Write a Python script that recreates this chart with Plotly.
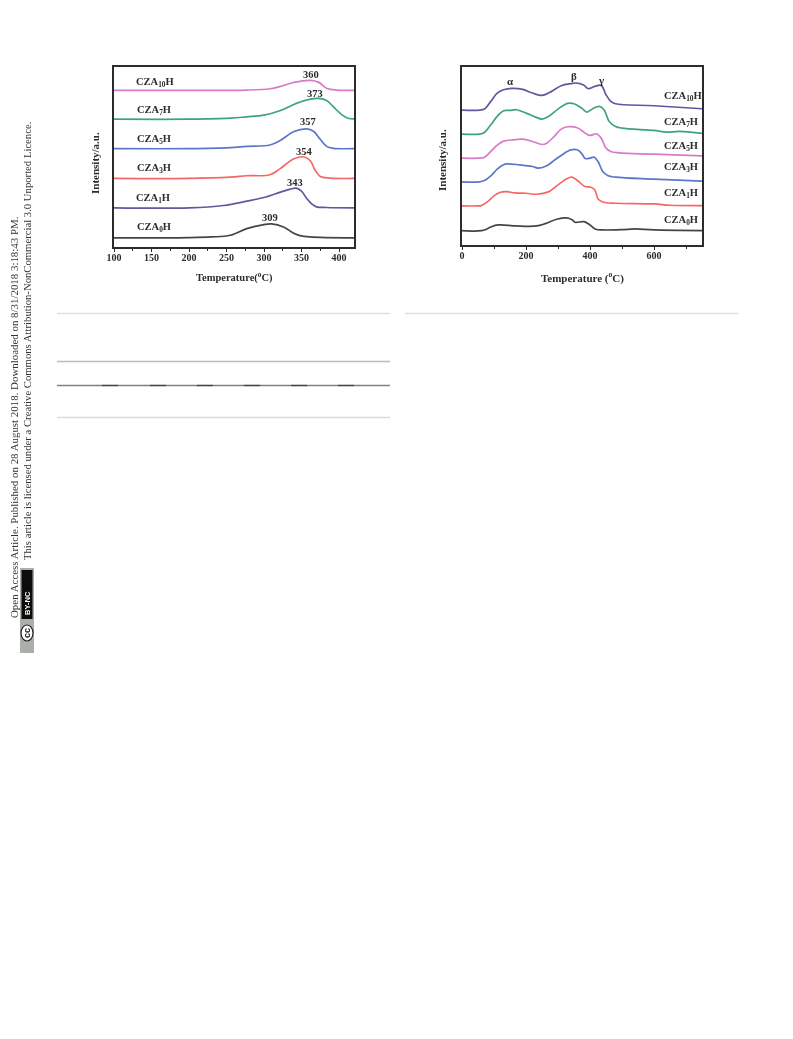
import plotly.graph_objects as go

W, H = 793, 1039
NAMES = ["CZA0H", "CZA1H", "CZA3H", "CZA5H", "CZA7H", "CZA10H"]
COLORS = ["#3c3c3c", "#56509c", "#f4605c", "#5470c4", "#33a070", "#d873c4"]
R_COLORS = ["#3c3c3c", "#f4605c", "#5470c4", "#d873c4", "#33a070", "#56509c"]

# Left panel, intensity in arbitrary units
L_T = [
    [100,200,230,255,277,300,310,326,339,348,361,420],
    [100,200,246,277,300,322,335,343,350,357,364,370,383,420],
    [100,200,255,277,308,322,340,354,362,368,375,388,420],
    [100,200,255,277,308,322,340,357,366,375,384,392,420],
    [100,200,255,277,300,322,344,362,373,384,392,404,412,420],
    [100,200,277,308,322,340,362,373,384,397,420],
]
L_I = [
    [27,28,30,35,55,67,69,60,42,34,30,27],
    [117,117,124,137,148,164,173,176,167,145,128,120,118,117],
    [205,205,209,213,216,235,264,269,257,230,211,206,205],
    [294,294,297,301,305,319,345,353,346,322,300,295,294],
    [382,382,385,389,394,408,430,442,444,437,420,395,385,383],
    [468,468,469,473,480,492,498,492,474,469,468],
]
L_PEAKS = ["309", "343", "354", "357", "373", "360"]

# Right panel
R_T = [
    [0,50,70,90,113,170,233,260,296,327,345,353,381,400,418,440,500,540,600,750],
    [0,50,60,80,100,120,139,165,200,233,270,300,325,343,365,384,403,415,426,442,480,600,650,750],
    [0,55,70,90,110,130,140,180,220,240,265,290,320,340,360,375,385,400,412,425,440,455,480,600,750],
    [0,50,70,90,110,130,160,190,220,250,265,290,310,330,360,385,400,420,435,450,465,490,600,750],
    [0,55,70,90,110,130,150,170,200,230,250,270,300,330,350,375,390,410,430,445,460,480,500,600,640,680,750],
    [0,55,70,90,110,130,155,190,220,250,280,310,340,360,380,395,415,435,450,465,480,600,750],
]
R_I = [
    [43,42,45,54,60,57,57,64,77,81,75,68,70,60,47,45,46,48,45,43],
    [117,117,118,130,147,158,160,156,155,152,159,180,197,203,190,175,173,165,137,128,125,123,119,118],
    [189,189,193,207,227,240,243,240,235,230,237,255,275,285,285,273,259,260,263,250,220,208,203,197,191],
    [260,260,263,280,299,311,315,317,310,301,305,327,347,354,351,335,328,333,320,290,280,276,272,267],
    [332,332,337,360,385,402,403,405,395,383,377,385,407,424,423,409,398,409,415,403,370,355,350,343,338,340,334],
    [404,404,407,430,455,465,469,466,455,448,460,477,483,485,479,468,475,478,450,430,423,417,408],
]

LABELS = ["CZA<sub>0</sub>H", "CZA<sub>1</sub>H", "CZA<sub>3</sub>H",
          "CZA<sub>5</sub>H", "CZA<sub>7</sub>H", "CZA<sub>10</sub>H"]
BANDS = ["α", "β", "γ"]
BADGE = "BY-NC"
LINE1 = "Open Access Article. Published on 28 August 2018. Downloaded on 8/31/2018 3:18:43 PM."
LINE2 = "This article is licensed under a Creative Commons Attribution-NonCommercial 3.0 Unported Licence."

SERIF = "Liberation Serif"
INK = "#2c2c2c"


def px(x):
    return x / W


def py(y):
    return 1 - y / H


fig = go.Figure()
for i, name in enumerate(NAMES):
    fig.add_trace(go.Scatter(x=L_T[i], y=L_I[i], mode="lines", name=name, xaxis="x", yaxis="y",
                             line=dict(color=COLORS[i], width=1.7, shape="spline", smoothing=1.0),
                             opacity=0.95, showlegend=False))
    fig.add_trace(go.Scatter(x=R_T[i], y=R_I[i], mode="lines", name=name, xaxis="x2", yaxis="y2",
                             line=dict(color=R_COLORS[i], width=1.7, shape="spline", smoothing=1.0),
                             opacity=0.95, showlegend=False))

ann = []


def text(x, y, s, size=10, bold=True, anchor="center", angle=0, color=INK, family=SERIF):
    ann.append(dict(x=px(x), y=py(y), xref="paper", yref="paper", showarrow=False,
                    text=f"<b>{s}</b>" if bold else s, xanchor=anchor, yanchor="middle",
                    textangle=angle, font=dict(family=family, size=size, color=color)))


for s, (x, y) in zip(LABELS, [(135, 228), (134, 199), (135, 169), (135, 140), (135, 110), (134, 82)]):
    text(x, y, s, size=10.5, anchor="left")
for s, (x, y) in zip(L_PEAKS, [(270, 217), (295, 182), (304, 151), (308, 121), (315, 93), (311, 75)]):
    text(x, y, s, size=10.5)
for s, (x, y) in zip(LABELS, [(662, 220), (662, 194), (662, 168), (662, 146), (662, 122), (662, 96)]):
    text(x, y, s, size=10.5, anchor="left")
for s, (x, y) in zip(BANDS, [(511, 81), (574, 76), (601, 80)]):
    text(x, y, s, size=11)
text(95, 163, "Intensity/a.u.", size=11, angle=-90)
text(442, 160, "Intensity/a.u.", size=11, angle=-90)
text(234, 277, "Temperature(<sup>o</sup>C)", size=10.5)
text(582, 277, "Temperature (<sup>o</sup>C)", size=11)
text(14, 418, LINE1, size=10.9, bold=False, angle=-90, color="#333333")
text(27, 341, LINE2, size=10.7, bold=False, angle=-90, color="#333333")
text(27, 603, BADGE, size=7.5, angle=-90, color="#ffffff", family="Liberation Sans")
text(27, 633, "cc", size=9, angle=-90, color="#111111", family="Liberation Sans")


def hline(x0, x1, y, color, width=1.3):
    return dict(type="line", xref="paper", yref="paper", x0=px(x0), x1=px(x1), y0=py(y), y1=py(y),
                line=dict(color=color, width=width))


shapes = [
    hline(57, 390, 313.5, "#e4e0cf"),
    hline(405, 738, 313.5, "#e4e0cf"),
    hline(57, 390, 361.5, "#bcbcbc"),
    hline(57, 390, 385.5, "#808080"),
    hline(57, 390, 417.5, "#dfdac9"),
]
for x0 in [102, 150, 197, 244, 291, 338]:
    shapes.append(hline(x0, x0 + 16, 385.5, "#444444"))
shapes += [
    dict(type="rect", xref="paper", yref="paper", x0=px(20), x1=px(34), y0=py(653), y1=py(568),
         fillcolor="#a9b0a8", line=dict(width=0)),
    dict(type="rect", xref="paper", yref="paper", x0=px(21.5), x1=px(32.5), y0=py(619), y1=py(570),
         fillcolor="#0c0c0c", line=dict(width=0)),
    dict(type="circle", xref="paper", yref="paper", x0=px(21), x1=px(33), y0=py(641), y1=py(625),
         fillcolor="#ffffff", line=dict(color="#222222", width=1.2)),
]


def xaxis(lo, hi, dtick, minor, dom, anchor):
    return dict(domain=dom, range=[lo, hi], tick0=lo, dtick=dtick, ticks="outside", ticklen=3, tickwidth=1.3,
                tickcolor=INK, showline=True, linecolor=INK, linewidth=1.8, mirror=True, showgrid=False,
                zeroline=False, anchor=anchor, automargin=False, ticklabelstandoff=-3,
                minor=dict(dtick=minor, ticks="outside", ticklen=2, tickwidth=1, tickcolor=INK, showgrid=False),
                tickfont=dict(family=SERIF, size=10, color=INK), tickprefix="<b>", ticksuffix="</b>")


def yaxis(hi, dom, anchor):
    return dict(domain=dom, range=[0, hi], showticklabels=False, ticks="", showline=True, linecolor=INK,
                linewidth=1.8, mirror=True, showgrid=False, zeroline=False, anchor=anchor, automargin=False)


fig.update_layout(
    width=W, height=H, autosize=False, margin=dict(l=0, r=0, t=0, b=0),
    paper_bgcolor="#ffffff", plot_bgcolor="#ffffff", showlegend=False,
    xaxis=xaxis(100, 420, 50, 25, [px(114), px(354)], "y"),
    yaxis=yaxis(538, [py(247), py(67)], "x"),
    xaxis2=xaxis(0, 750, 200, 100, [px(462), px(702)], "y2"),
    yaxis2=yaxis(533, [py(245), py(67)], "x2"),
    annotations=ann, shapes=shapes,
)
soft = ("document.body.style.margin='0';document.documentElement.style.overflow='hidden';"
        "document.querySelectorAll('.cartesianlayer, .xtick, .annotation').forEach(function(e){"
        "var t=e.textContent||'';"
        "if(t.indexOf('Article')<0&&t.indexOf('licensed')<0&&t.indexOf('BY-NC')<0&&t!=='cc'){"
        "e.style.filter='blur(0.45px)';}});")
fig.write_html("out.html", config=dict(displayModeBar=False), post_script=soft)
